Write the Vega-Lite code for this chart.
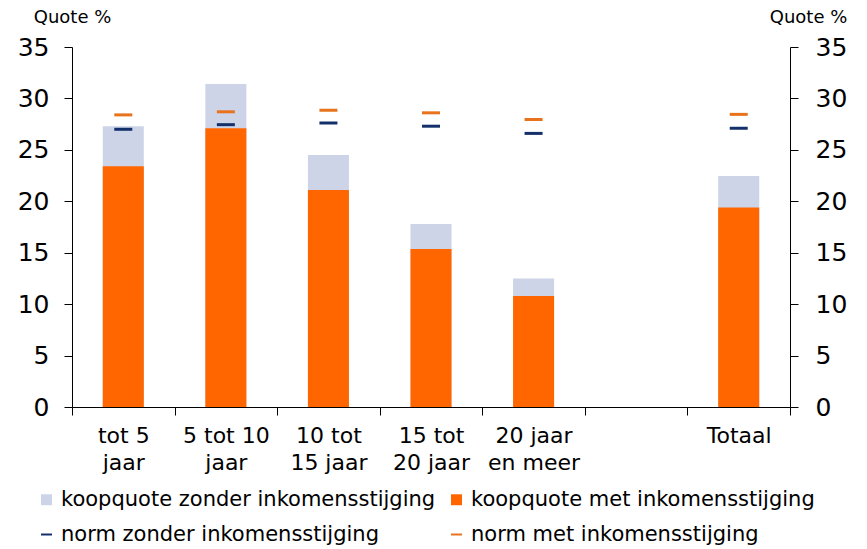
{
  "$schema": "https://vega.github.io/schema/vega-lite/v6.json",
  "width": 718,
  "height": 360,
  "autosize": "none",
  "padding": {"left": 72, "top": 47, "right": 77, "bottom": 142},
  "background": "white",
  "config": {
    "view": {"stroke": null},
    "font": "DejaVu Sans",
    "axis": {"labelFont": "DejaVu Sans", "titleFont": "DejaVu Sans", "labelColor": "black", "titleColor": "black", "domainColor": "black", "tickColor": "black", "grid": false},
    "legend": {"labelFont": "DejaVu Sans", "labelColor": "black"}
  },
  "data": {
    "values": [
      {"categorie": "tot 5 jaar", "reeks": "koopquote zonder inkomensstijging", "waarde": 27.3},
      {"categorie": "5 tot 10 jaar", "reeks": "koopquote zonder inkomensstijging", "waarde": 31.4},
      {"categorie": "10 tot 15 jaar", "reeks": "koopquote zonder inkomensstijging", "waarde": 24.5},
      {"categorie": "15 tot 20 jaar", "reeks": "koopquote zonder inkomensstijging", "waarde": 17.8},
      {"categorie": "20 jaar en meer", "reeks": "koopquote zonder inkomensstijging", "waarde": 12.5},
      {"categorie": "Totaal", "reeks": "koopquote zonder inkomensstijging", "waarde": 22.45},
      {"categorie": "tot 5 jaar", "reeks": "koopquote met inkomensstijging", "waarde": 23.4},
      {"categorie": "5 tot 10 jaar", "reeks": "koopquote met inkomensstijging", "waarde": 27.1},
      {"categorie": "10 tot 15 jaar", "reeks": "koopquote met inkomensstijging", "waarde": 21.1},
      {"categorie": "15 tot 20 jaar", "reeks": "koopquote met inkomensstijging", "waarde": 15.35},
      {"categorie": "20 jaar en meer", "reeks": "koopquote met inkomensstijging", "waarde": 10.8},
      {"categorie": "Totaal", "reeks": "koopquote met inkomensstijging", "waarde": 19.4},
      {"categorie": "tot 5 jaar", "reeks": "norm zonder inkomensstijging", "waarde": 27.0},
      {"categorie": "5 tot 10 jaar", "reeks": "norm zonder inkomensstijging", "waarde": 27.45},
      {"categorie": "10 tot 15 jaar", "reeks": "norm zonder inkomensstijging", "waarde": 27.6},
      {"categorie": "15 tot 20 jaar", "reeks": "norm zonder inkomensstijging", "waarde": 27.3},
      {"categorie": "20 jaar en meer", "reeks": "norm zonder inkomensstijging", "waarde": 26.6},
      {"categorie": "Totaal", "reeks": "norm zonder inkomensstijging", "waarde": 27.1},
      {"categorie": "tot 5 jaar", "reeks": "norm met inkomensstijging", "waarde": 28.4},
      {"categorie": "5 tot 10 jaar", "reeks": "norm met inkomensstijging", "waarde": 28.7},
      {"categorie": "10 tot 15 jaar", "reeks": "norm met inkomensstijging", "waarde": 28.85},
      {"categorie": "15 tot 20 jaar", "reeks": "norm met inkomensstijging", "waarde": 28.6},
      {"categorie": "20 jaar en meer", "reeks": "norm met inkomensstijging", "waarde": 27.95},
      {"categorie": "Totaal", "reeks": "norm met inkomensstijging", "waarde": 28.45}
    ]
  },
  "encoding": {
    "x": {
      "field": "categorie", "type": "nominal", "title": null,
      "scale": {"domain": ["tot 5 jaar", "5 tot 10 jaar", "10 tot 15 jaar", "15 tot 20 jaar", "20 jaar en meer", "-", "Totaal"], "paddingInner": 0, "paddingOuter": 0},
      "axis": {
        "labelAngle": 0, "tickBand": "extent", "tickSize": 8, "labelFontSize": 22, "labelPadding": 10, "labelLineHeight": 27,
        "labelAlign": "center", "labelBaseline": "top",
        "labelExpr": "datum.value == 'tot 5 jaar' ? ['tot 5', 'jaar'] : datum.value == '5 tot 10 jaar' ? ['5 tot 10', 'jaar'] : datum.value == '10 tot 15 jaar' ? ['10 tot', '15 jaar'] : datum.value == '15 tot 20 jaar' ? ['15 tot', '20 jaar'] : datum.value == '20 jaar en meer' ? ['20 jaar', 'en meer'] : datum.value == '-' ? '' : datum.value"
      }
    },
    "color": {
      "field": "reeks", "type": "nominal",
      "scale": {
        "domain": ["koopquote zonder inkomensstijging", "koopquote met inkomensstijging", "norm zonder inkomensstijging", "norm met inkomensstijging"],
        "range": ["#cdd4e8", "#ff6600", "#14306a", "#e8731c"]
      },
      "legend": {
        "title": null, "orient": "none", "legendX": -36, "legendY": 442, "direction": "horizontal", "columns": 2, "rowPadding": 13,
        "labelFontSize": 21, "labelLimit": 500, "symbolType": "square", "symbolSize": 120,
        "encode": {
          "symbols": {
            "update": {
              "shape": {"signal": "datum.index >= 2 ? 'stroke' : 'square'"},
              "stroke": {"signal": "scale('color', datum.value)"},
              "strokeWidth": {"signal": "datum.index >= 2 ? 2 : 0"}
            }
          }
        }
      }
    }
  },
  "layer": [
    {
      "transform": [{"filter": "datum.reeks == 'koopquote zonder inkomensstijging'"}],
      "mark": {"type": "bar", "width": {"band": 0.4}},
      "encoding": {
        "y": {"field": "waarde", "type": "quantitative", "stack": null, "scale": {"domain": [0, 35], "nice": false},
          "axis": {"orient": "left", "values": [0, 5, 10, 15, 20, 25, 30, 35], "tickSize": 8, "labelFontSize": 25, "labelPadding": 15,
            "title": "Quote %", "titleAngle": 0, "titleFontSize": 18, "titleFontWeight": "normal", "titleAlign": "center", "titleBaseline": "middle", "titleX": 0, "titleY": -30}}
      }
    },
    {
      "transform": [{"filter": "datum.reeks == 'koopquote met inkomensstijging'"}],
      "mark": {"type": "bar", "width": {"band": 0.4}},
      "encoding": {
        "y": {"field": "waarde", "type": "quantitative", "stack": null, "scale": {"domain": [0, 35], "nice": false},
          "axis": {"orient": "right", "values": [0, 5, 10, 15, 20, 25, 30, 35], "tickSize": 8, "labelFontSize": 25, "labelPadding": 17,
            "title": "Quote %", "titleAngle": 0, "titleFontSize": 18, "titleFontWeight": "normal", "titleAlign": "center", "titleBaseline": "middle", "titleX": 18, "titleY": -30}}
      }
    },
    {
      "transform": [{"filter": "datum.reeks == 'norm zonder inkomensstijging'"}],
      "mark": {"type": "tick", "orient": "horizontal", "size": 18, "thickness": 3, "opacity": 1},
      "encoding": {
        "y": {"field": "waarde", "type": "quantitative", "stack": null, "axis": null}
      }
    },
    {
      "transform": [{"filter": "datum.reeks == 'norm met inkomensstijging'"}],
      "mark": {"type": "tick", "orient": "horizontal", "size": 18, "thickness": 3, "opacity": 1},
      "encoding": {
        "y": {"field": "waarde", "type": "quantitative", "stack": null, "axis": null}
      }
    }
  ],
  "resolve": {"axis": {"y": "independent"}}
}
